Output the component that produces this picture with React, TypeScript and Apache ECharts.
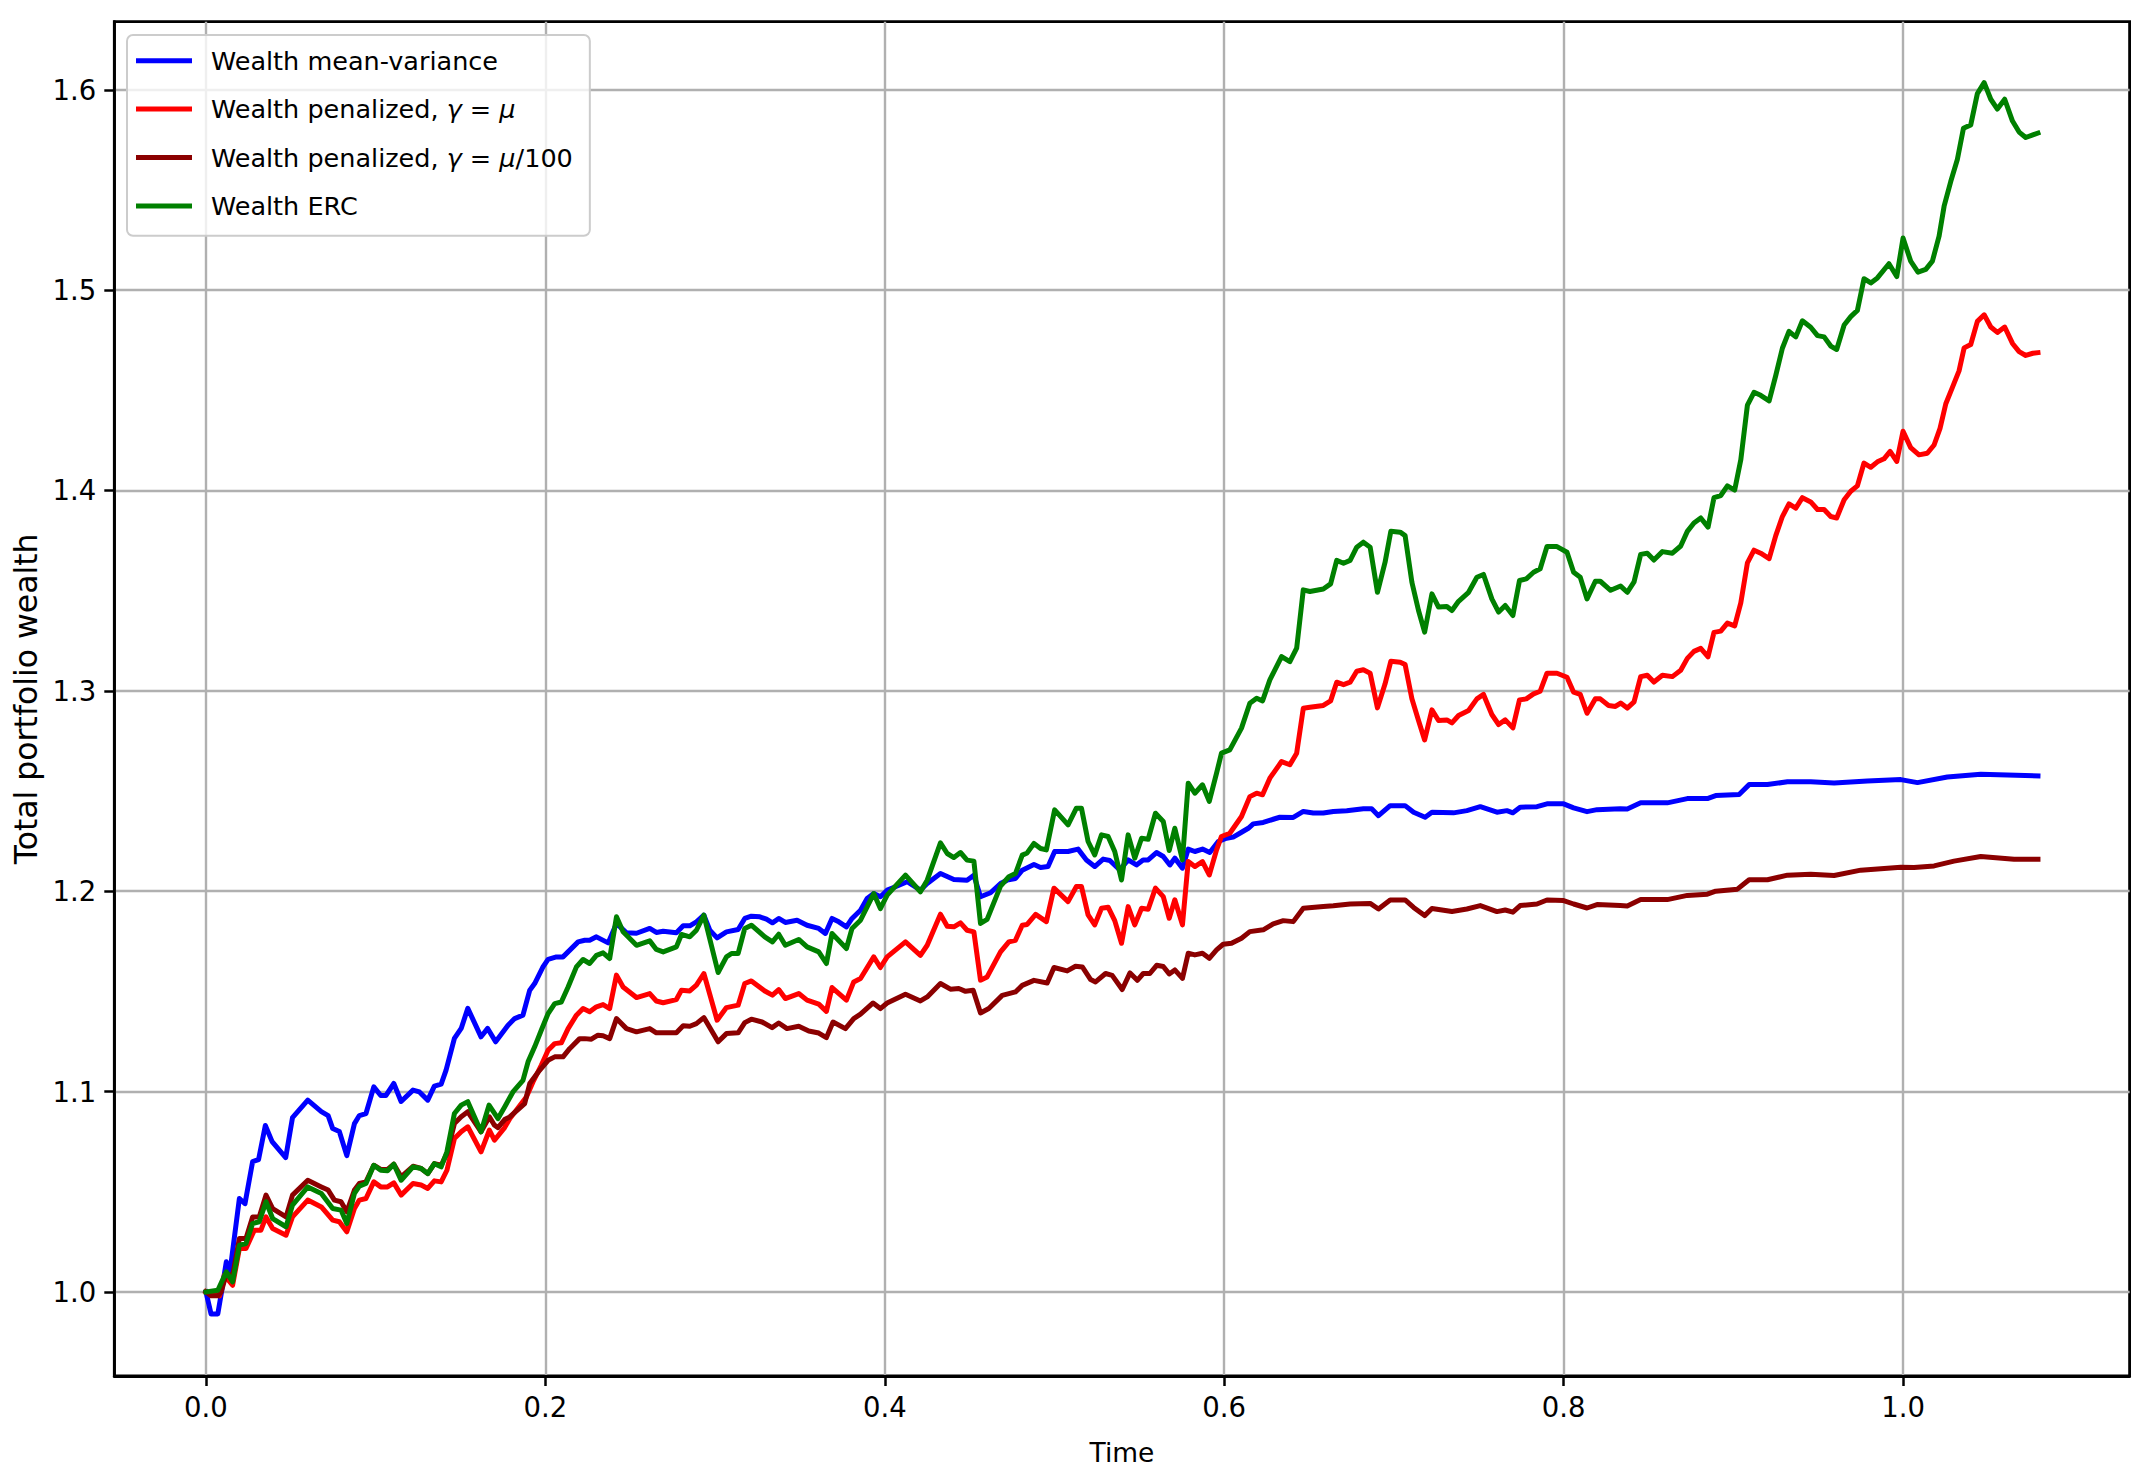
import React, { useEffect, useRef } from "react";
import * as echarts from "echarts";

const FONT = "DejaVu Sans";

const X_TICKS = [0, 0.2, 0.4, 0.6, 0.8, 1.0];
const Y_TICKS = [1.0, 1.1, 1.2, 1.3, 1.4, 1.5, 1.6];

const SERIES_NAMES = [
  "Wealth mean-variance",
  "Wealth penalized, γ = μ",
  "Wealth penalized, γ = μ/100",
  "Wealth ERC",
];
const SERIES_COLORS = ["#0000ff", "#ff0000", "#8b0000", "#008000"];

const meanVariance: [number, number][] = [
  [0, 1.0], [0.003, 0.989], [0.007, 0.989], [0.009, 0.999], [0.012, 1.015], [0.014, 1.009],
  [0.0197, 1.0466], [0.023, 1.044], [0.0275, 1.065], [0.031, 1.066], [0.035, 1.083], [0.039, 1.075],
  [0.047, 1.067], [0.051, 1.087], [0.06, 1.0957], [0.068, 1.09], [0.072, 1.088], [0.0747, 1.0815],
  [0.0786, 1.08], [0.083, 1.068], [0.0875, 1.084], [0.0904, 1.088], [0.0943, 1.089], [0.0989, 1.1023],
  [0.103, 1.098], [0.106, 1.098], [0.1107, 1.104], [0.115, 1.095], [0.122, 1.1007], [0.1258, 1.0998],
  [0.1307, 1.0957], [0.1346, 1.1027], [0.1386, 1.1037], [0.1415, 1.1107], [0.1464, 1.1265], [0.1504, 1.1315],
  [0.1543, 1.1415], [0.1621, 1.1273], [0.166, 1.1315], [0.1707, 1.1248], [0.178, 1.1331], [0.1819, 1.1364],
  [0.1868, 1.1381], [0.1908, 1.1506], [0.1937, 1.1539], [0.1986, 1.1622], [0.2016, 1.166], [0.2065, 1.1672],
  [0.2104, 1.1672], [0.2193, 1.1747], [0.2232, 1.1755], [0.2261, 1.1755], [0.2301, 1.1772], [0.237, 1.1742],
  [0.2419, 1.1839], [0.2478, 1.1792], [0.2537, 1.179], [0.2615, 1.1814], [0.2654, 1.1794], [0.2694, 1.18],
  [0.2772, 1.1792], [0.2812, 1.1827], [0.2851, 1.1827], [0.289, 1.1847], [0.2934, 1.188], [0.2969, 1.1805],
  [0.3012, 1.1767], [0.3067, 1.1797], [0.3136, 1.1809], [0.3175, 1.1864], [0.3214, 1.1875], [0.3264, 1.1872],
  [0.3303, 1.186], [0.3338, 1.1842], [0.3375, 1.1864], [0.3414, 1.1844], [0.3483, 1.1855], [0.3542, 1.183],
  [0.3611, 1.1814], [0.365, 1.1789], [0.3689, 1.1864], [0.3729, 1.1847], [0.3774, 1.1822], [0.3807, 1.1864],
  [0.3857, 1.1905], [0.3896, 1.1963], [0.3935, 1.1988], [0.3974, 1.1972], [0.4014, 1.2005], [0.4063, 1.2022],
  [0.4132, 1.2047], [0.421, 1.2005], [0.425, 1.2038], [0.4328, 1.2088], [0.4407, 1.2058], [0.4485, 1.2055],
  [0.4525, 1.208], [0.4564, 1.1972], [0.4623, 1.1992], [0.4682, 1.2038], [0.4721, 1.2055], [0.477, 1.2063],
  [0.481, 1.2105], [0.4879, 1.2133], [0.4918, 1.2118], [0.4962, 1.2123], [0.5001, 1.2198], [0.508, 1.2198],
  [0.5139, 1.221], [0.5188, 1.2156], [0.5237, 1.2123], [0.5287, 1.216], [0.5326, 1.2153], [0.5385, 1.2106],
  [0.5434, 1.2156], [0.5483, 1.2131], [0.5522, 1.2156], [0.5552, 1.2156], [0.5601, 1.2193], [0.5641, 1.2173],
  [0.568, 1.2131], [0.5709, 1.2165], [0.5754, 1.2115], [0.5788, 1.221], [0.5827, 1.2198], [0.5872, 1.221],
  [0.5915, 1.2193], [0.5965, 1.2248], [0.6014, 1.2264], [0.6053, 1.227], [0.6092, 1.2289], [0.6142, 1.2314],
  [0.6171, 1.2336], [0.623, 1.2343], [0.6289, 1.2359], [0.6328, 1.2369], [0.6407, 1.2368], [0.6466, 1.2398],
  [0.6525, 1.239], [0.6584, 1.239], [0.6643, 1.2398], [0.6722, 1.2402], [0.682, 1.2411], [0.6869, 1.2411],
  [0.6909, 1.2377], [0.6978, 1.2427], [0.7066, 1.2427], [0.7116, 1.2394], [0.7184, 1.2369], [0.7224, 1.2394],
  [0.7351, 1.2391], [0.743, 1.2402], [0.7509, 1.2422], [0.7607, 1.2394], [0.7666, 1.2402], [0.7701, 1.2391],
  [0.7744, 1.2419], [0.7843, 1.2422], [0.7902, 1.2436], [0.8, 1.2436], [0.8059, 1.2416], [0.8138, 1.2397],
  [0.8197, 1.2407], [0.8334, 1.2411], [0.8375, 1.241], [0.8454, 1.2441], [0.8611, 1.2441], [0.8729, 1.2462],
  [0.8847, 1.2462], [0.8896, 1.2477], [0.9034, 1.2483], [0.9093, 1.2532], [0.9201, 1.2532], [0.9319, 1.2546],
  [0.9456, 1.2546], [0.9594, 1.254], [0.979, 1.255], [0.9987, 1.2557], [1.0085, 1.2542], [1.0261, 1.257],
  [1.0458, 1.2584], [1.0795, 1.2575],
];

const penalizedMu: [number, number][] = [
  [0, 1.0], [0.003, 0.999], [0.008, 0.998], [0.0108, 1.0083], [0.0157, 1.0033], [0.0197, 1.0216],
  [0.0236, 1.0216], [0.0285, 1.0308], [0.0324, 1.0308], [0.0354, 1.0374], [0.0393, 1.0316], [0.0472, 1.0283],
  [0.051, 1.0374], [0.06, 1.0458], [0.068, 1.0424], [0.0747, 1.0358], [0.0786, 1.035], [0.083, 1.03],
  [0.0875, 1.0416], [0.0904, 1.0458], [0.0943, 1.0466], [0.0989, 1.0549], [0.103, 1.0524], [0.107, 1.0524],
  [0.1107, 1.0544], [0.115, 1.0483], [0.122, 1.0541], [0.1268, 1.0533], [0.1307, 1.0516], [0.1346, 1.0554],
  [0.1386, 1.0549], [0.142, 1.0607], [0.1464, 1.0765], [0.1504, 1.0799], [0.1543, 1.0824], [0.1621, 1.0699],
  [0.167, 1.0807], [0.17, 1.0757], [0.176, 1.082], [0.1791, 1.0865], [0.1888, 1.0973], [0.1927, 1.1048],
  [0.1976, 1.1131], [0.2016, 1.1206], [0.2055, 1.1239], [0.2094, 1.1243], [0.2134, 1.1314], [0.2183, 1.1381],
  [0.2222, 1.1414], [0.2261, 1.1398], [0.2301, 1.1423], [0.234, 1.1434], [0.2379, 1.1414], [0.2419, 1.1581],
  [0.2458, 1.1522], [0.2537, 1.1469], [0.2615, 1.1489], [0.2654, 1.1452], [0.2694, 1.1443], [0.2772, 1.1459],
  [0.2802, 1.1506], [0.2851, 1.1502], [0.289, 1.1531], [0.2934, 1.1589], [0.3012, 1.1356], [0.3067, 1.1419],
  [0.3136, 1.1431], [0.3175, 1.1539], [0.3214, 1.1552], [0.3293, 1.1502], [0.3338, 1.1481], [0.3375, 1.1509],
  [0.3414, 1.1464], [0.3493, 1.1489], [0.3542, 1.1456], [0.3611, 1.1436], [0.3656, 1.14], [0.3689, 1.1519],
  [0.3774, 1.1456], [0.3817, 1.1547], [0.3857, 1.1564], [0.3935, 1.1672], [0.3974, 1.1619], [0.4014, 1.1672],
  [0.4122, 1.1747], [0.421, 1.168], [0.425, 1.173], [0.4328, 1.1885], [0.4368, 1.1825], [0.4407, 1.1822],
  [0.4446, 1.1842], [0.4485, 1.1805], [0.4525, 1.1797], [0.4564, 1.1556], [0.4603, 1.1572], [0.4682, 1.1697],
  [0.4731, 1.1747], [0.477, 1.1755], [0.481, 1.183], [0.4839, 1.1834], [0.4889, 1.1884], [0.4952, 1.1848],
  [0.4997, 1.2015], [0.508, 1.1948], [0.5129, 1.2023], [0.5159, 1.2023], [0.5198, 1.1882], [0.5237, 1.1832],
  [0.5277, 1.1915], [0.5316, 1.192], [0.5355, 1.1853], [0.5395, 1.174], [0.5434, 1.1923], [0.5473, 1.1832],
  [0.5513, 1.1915], [0.5552, 1.191], [0.5595, 1.2015], [0.5641, 1.1973], [0.5676, 1.1865], [0.5709, 1.1957],
  [0.5754, 1.1832], [0.5788, 1.2148], [0.5827, 1.2123], [0.5872, 1.2148], [0.5912, 1.2081], [0.5955, 1.2206],
  [0.5984, 1.2273], [0.6033, 1.2289], [0.6102, 1.2373], [0.6151, 1.2472], [0.6191, 1.2489], [0.6226, 1.2481],
  [0.6269, 1.2564], [0.6338, 1.2647], [0.6387, 1.2631], [0.6427, 1.2689], [0.6466, 1.2913], [0.6505, 1.2918],
  [0.6584, 1.2927], [0.6627, 1.295], [0.6663, 1.3043], [0.6703, 1.3031], [0.6742, 1.3043], [0.6781, 1.3098],
  [0.682, 1.3105], [0.686, 1.3088], [0.6903, 1.2915], [0.6948, 1.3035], [0.6982, 1.3148], [0.7037, 1.3143],
  [0.7066, 1.3131], [0.7106, 1.296], [0.7145, 1.2852], [0.7181, 1.2755], [0.7224, 1.2905], [0.7263, 1.2852],
  [0.7312, 1.2855], [0.7342, 1.284], [0.7381, 1.2877], [0.744, 1.2902], [0.7489, 1.296], [0.7528, 1.2982],
  [0.7577, 1.2882], [0.7617, 1.2832], [0.7656, 1.2855], [0.7701, 1.2815], [0.774, 1.2955], [0.778, 1.296],
  [0.7823, 1.2985], [0.7862, 1.2998], [0.7902, 1.3088], [0.7961, 1.3088], [0.802, 1.3068], [0.8059, 1.2993],
  [0.8098, 1.2982], [0.8138, 1.2888], [0.8187, 1.296], [0.8216, 1.296], [0.8265, 1.2927], [0.8305, 1.2922],
  [0.8336, 1.2939], [0.8375, 1.2914], [0.8415, 1.2945], [0.8454, 1.3071], [0.8493, 1.3078], [0.8532, 1.3044],
  [0.8582, 1.3078], [0.8641, 1.3071], [0.869, 1.3103], [0.8729, 1.3162], [0.8768, 1.3197], [0.8808, 1.3212],
  [0.8851, 1.317], [0.8886, 1.3292], [0.8926, 1.3298], [0.8965, 1.3338], [0.9008, 1.3324], [0.9044, 1.3439],
  [0.9083, 1.3639], [0.9122, 1.3702], [0.9161, 1.3687], [0.9211, 1.366], [0.925, 1.3775], [0.9289, 1.387],
  [0.9328, 1.3933], [0.9368, 1.3912], [0.9407, 1.3964], [0.9456, 1.3943], [0.9496, 1.3905], [0.9535, 1.3905],
  [0.9574, 1.387], [0.9609, 1.3863], [0.9653, 1.3954], [0.9692, 1.3996], [0.9731, 1.4023], [0.977, 1.4137],
  [0.981, 1.4116], [0.9849, 1.4143], [0.9888, 1.4158], [0.9924, 1.4195], [0.9963, 1.4145], [1.0, 1.4296],
  [1.0045, 1.4214], [1.0094, 1.4178], [1.0143, 1.4186], [1.0183, 1.4227], [1.0218, 1.431], [1.0252, 1.4433],
  [1.0291, 1.4515], [1.033, 1.4597], [1.036, 1.4712], [1.0399, 1.4729], [1.0438, 1.4844], [1.0478, 1.4877],
  [1.0517, 1.4816], [1.0556, 1.4789], [1.0599, 1.4816], [1.0645, 1.4734], [1.0684, 1.4693], [1.0723, 1.4674],
  [1.0765, 1.4685], [1.0795, 1.4688],
];

const penalizedMu100: [number, number][] = [
  [0, 1.0], [0.003, 0.998], [0.007, 0.998], [0.009, 1.0], [0.012, 1.009], [0.0157, 1.008],
  [0.0197, 1.0266], [0.0236, 1.0266], [0.0275, 1.0374], [0.0314, 1.0374], [0.0354, 1.0483], [0.0393, 1.0416],
  [0.0472, 1.0374], [0.051, 1.0483], [0.06, 1.0557], [0.068, 1.0524], [0.072, 1.0508], [0.0757, 1.0458],
  [0.0796, 1.045], [0.083, 1.04], [0.0875, 1.0508], [0.0904, 1.0541], [0.0943, 1.0549], [0.0989, 1.0632],
  [0.103, 1.0611], [0.107, 1.0611], [0.1107, 1.0637], [0.115, 1.0574], [0.122, 1.0627], [0.1268, 1.0616],
  [0.1307, 1.059], [0.1346, 1.064], [0.1386, 1.0632], [0.142, 1.069], [0.1464, 1.084], [0.1504, 1.0874],
  [0.1543, 1.0899], [0.1621, 1.0799], [0.167, 1.0874], [0.17, 1.0832], [0.1721, 1.082], [0.176, 1.086],
  [0.179, 1.0873], [0.1878, 1.094], [0.1908, 1.104], [0.1966, 1.1106], [0.2016, 1.1156], [0.2055, 1.1173],
  [0.2104, 1.1173], [0.2143, 1.1214], [0.2202, 1.1264], [0.2232, 1.1264], [0.2271, 1.1261], [0.231, 1.1281],
  [0.234, 1.1278], [0.2379, 1.1264], [0.2419, 1.1364], [0.2478, 1.1314], [0.2537, 1.1298], [0.2615, 1.1314],
  [0.2654, 1.1293], [0.2772, 1.1293], [0.2812, 1.1328], [0.2851, 1.1326], [0.289, 1.1339], [0.2934, 1.1369],
  [0.3018, 1.1248], [0.3067, 1.1289], [0.3136, 1.1293], [0.3175, 1.1344], [0.3214, 1.1361], [0.3277, 1.1347],
  [0.3336, 1.1319], [0.3375, 1.1342], [0.3424, 1.1314], [0.3493, 1.1326], [0.3552, 1.1302], [0.3611, 1.1292],
  [0.3656, 1.1269], [0.3695, 1.1347], [0.3768, 1.1314], [0.3817, 1.1364], [0.3857, 1.1386], [0.3931, 1.1442],
  [0.3974, 1.1414], [0.4014, 1.1442], [0.4122, 1.1486], [0.421, 1.1452], [0.425, 1.1472], [0.4328, 1.1539],
  [0.4387, 1.1511], [0.4436, 1.1514], [0.4476, 1.15], [0.4521, 1.1505], [0.4564, 1.1392], [0.4613, 1.1414],
  [0.4692, 1.148], [0.477, 1.1497], [0.481, 1.153], [0.4879, 1.1555], [0.4957, 1.1542], [0.4997, 1.1619],
  [0.5075, 1.1602], [0.5124, 1.1625], [0.5164, 1.1622], [0.5213, 1.1559], [0.5242, 1.1547], [0.5301, 1.1589],
  [0.534, 1.158], [0.5399, 1.1509], [0.5445, 1.1592], [0.5488, 1.1555], [0.5523, 1.1589], [0.5562, 1.1589],
  [0.5602, 1.163], [0.5641, 1.1624], [0.5676, 1.1587], [0.5709, 1.1607], [0.5754, 1.1565], [0.5788, 1.169],
  [0.5827, 1.1682], [0.5872, 1.169], [0.5912, 1.1665], [0.5955, 1.1707], [0.5994, 1.1735], [0.6043, 1.174],
  [0.6102, 1.1765], [0.6151, 1.1798], [0.623, 1.1807], [0.6289, 1.1837], [0.6348, 1.1853], [0.6407, 1.1848],
  [0.6466, 1.1915], [0.6584, 1.1923], [0.6643, 1.1927], [0.6742, 1.1936], [0.686, 1.1939], [0.6909, 1.1911],
  [0.6978, 1.1956], [0.7066, 1.1956], [0.7116, 1.1919], [0.7181, 1.1878], [0.7224, 1.1914], [0.7342, 1.1899],
  [0.743, 1.1911], [0.7509, 1.1928], [0.7607, 1.1898], [0.7656, 1.1906], [0.7701, 1.1895], [0.7744, 1.1928],
  [0.7843, 1.1936], [0.7902, 1.1956], [0.8, 1.1953], [0.8059, 1.1936], [0.8138, 1.1916], [0.8197, 1.1933],
  [0.8334, 1.1928], [0.8375, 1.1926], [0.8454, 1.1958], [0.8611, 1.1958], [0.8729, 1.1979], [0.8847, 1.1985],
  [0.8896, 1.2], [0.9024, 1.201], [0.9093, 1.2057], [0.9201, 1.2057], [0.9319, 1.208], [0.9456, 1.2084],
  [0.9594, 1.2078], [0.9751, 1.2105], [0.9987, 1.212], [1.0065, 1.2118], [1.0183, 1.2126], [1.03, 1.215],
  [1.0458, 1.2173], [1.0654, 1.2159], [1.0795, 1.2159],
];

const erc: [number, number][] = [
  [0, 1.0], [0.007, 1.0008], [0.012, 1.01], [0.0157, 1.005], [0.0197, 1.0233], [0.0236, 1.0241],
  [0.0275, 1.0341], [0.0314, 1.035], [0.0354, 1.045], [0.0393, 1.0366], [0.0472, 1.0325], [0.051, 1.0433],
  [0.06, 1.0524], [0.068, 1.0491], [0.0747, 1.0416], [0.0796, 1.0408], [0.083, 1.0341], [0.0875, 1.0491],
  [0.0904, 1.0528], [0.0943, 1.0541], [0.0989, 1.0632], [0.103, 1.0607], [0.107, 1.0604], [0.1107, 1.0637],
  [0.115, 1.0557], [0.122, 1.0624], [0.1268, 1.0616], [0.1307, 1.059], [0.1346, 1.064], [0.1386, 1.0624],
  [0.142, 1.0699], [0.1464, 1.089], [0.1504, 1.0932], [0.1543, 1.0949], [0.1621, 1.0799], [0.1668, 1.0932],
  [0.1721, 1.0865], [0.176, 1.0923], [0.1809, 1.0998], [0.1868, 1.1056], [0.1898, 1.1148], [0.1937, 1.1223],
  [0.1976, 1.1306], [0.2016, 1.1389], [0.2055, 1.1439], [0.2094, 1.1447], [0.2134, 1.1522], [0.2183, 1.1622],
  [0.2222, 1.1659], [0.2261, 1.1639], [0.2301, 1.168], [0.234, 1.1692], [0.2379, 1.1664], [0.2419, 1.1872],
  [0.2458, 1.1797], [0.2537, 1.173], [0.2615, 1.1752], [0.2654, 1.1709], [0.2694, 1.1697], [0.2772, 1.1722],
  [0.2802, 1.1784], [0.2851, 1.1772], [0.289, 1.1805], [0.2934, 1.188], [0.3018, 1.1594], [0.3067, 1.1672],
  [0.3097, 1.1689], [0.3136, 1.1689], [0.3175, 1.1814], [0.3214, 1.183], [0.3293, 1.1772], [0.3338, 1.1747],
  [0.3375, 1.1785], [0.3414, 1.173], [0.3493, 1.1759], [0.3542, 1.1722], [0.3611, 1.1697], [0.3656, 1.1639],
  [0.3689, 1.1789], [0.3774, 1.1714], [0.3807, 1.1814], [0.3857, 1.1855], [0.3935, 1.1988], [0.3974, 1.1913],
  [0.4014, 1.198], [0.4122, 1.208], [0.421, 1.1997], [0.425, 1.2055], [0.4328, 1.2241], [0.4368, 1.2188],
  [0.4407, 1.2168], [0.4446, 1.2193], [0.4485, 1.2155], [0.4525, 1.215], [0.4564, 1.1839], [0.4603, 1.1859],
  [0.4682, 1.2025], [0.4731, 1.2072], [0.477, 1.2088], [0.481, 1.218], [0.4839, 1.2191], [0.4879, 1.2238],
  [0.4918, 1.2213], [0.4952, 1.2206], [0.5001, 1.2406], [0.508, 1.2331], [0.5129, 1.2414], [0.5159, 1.2414],
  [0.5198, 1.2248], [0.5237, 1.2181], [0.5277, 1.2281], [0.5316, 1.2273], [0.5355, 1.2198], [0.5395, 1.2056],
  [0.5434, 1.2281], [0.5473, 1.2165], [0.5513, 1.2264], [0.5552, 1.2259], [0.5595, 1.2389], [0.5641, 1.2348],
  [0.5676, 1.2203], [0.5709, 1.2314], [0.5754, 1.2156], [0.5788, 1.2539], [0.5827, 1.2489], [0.5872, 1.2531],
  [0.5912, 1.2448], [0.5955, 1.2589], [0.5984, 1.2689], [0.6033, 1.2705], [0.6102, 1.2814], [0.6151, 1.2938],
  [0.6191, 1.2963], [0.6226, 1.295], [0.6269, 1.3055], [0.6338, 1.3171], [0.6387, 1.3146], [0.6427, 1.3213],
  [0.6466, 1.3504], [0.6505, 1.3496], [0.6584, 1.3508], [0.6627, 1.3534], [0.6663, 1.3651], [0.6703, 1.3637],
  [0.6742, 1.3651], [0.6781, 1.3717], [0.682, 1.3742], [0.686, 1.3717], [0.6903, 1.3492], [0.6948, 1.3642],
  [0.6982, 1.3797], [0.7037, 1.3792], [0.7066, 1.3775], [0.7106, 1.3542], [0.7145, 1.3401], [0.7181, 1.3293],
  [0.7224, 1.3484], [0.7263, 1.3418], [0.7312, 1.3421], [0.7342, 1.3401], [0.7381, 1.3447], [0.744, 1.3492],
  [0.7489, 1.3567], [0.7528, 1.3581], [0.7577, 1.3459], [0.7617, 1.3393], [0.7656, 1.3426], [0.7701, 1.3376],
  [0.774, 1.3551], [0.778, 1.3559], [0.7823, 1.3592], [0.7862, 1.3609], [0.7902, 1.372], [0.7961, 1.372],
  [0.802, 1.3692], [0.8059, 1.3592], [0.8098, 1.3567], [0.8138, 1.3459], [0.8187, 1.3547], [0.8216, 1.3547],
  [0.8277, 1.3502], [0.8336, 1.3523], [0.8375, 1.3492], [0.8415, 1.3544], [0.8454, 1.3681], [0.8493, 1.3687],
  [0.8532, 1.3653], [0.8582, 1.3695], [0.8641, 1.3687], [0.869, 1.3723], [0.8729, 1.3796], [0.8768, 1.3838],
  [0.8808, 1.3863], [0.8851, 1.3817], [0.8886, 1.3964], [0.8926, 1.3975], [0.8965, 1.4023], [0.9008, 1.4002],
  [0.9044, 1.4153], [0.9083, 1.4426], [0.9122, 1.449], [0.9161, 1.4475], [0.9211, 1.4447], [0.925, 1.4574],
  [0.9289, 1.471], [0.9328, 1.4794], [0.9368, 1.4767], [0.9407, 1.4847], [0.9456, 1.4815], [0.9496, 1.4773],
  [0.9535, 1.4767], [0.9574, 1.4721], [0.9609, 1.4704], [0.9653, 1.4826], [0.9692, 1.4868], [0.9731, 1.4899],
  [0.977, 1.5057], [0.981, 1.5036], [0.9849, 1.5061], [0.9917, 1.5132], [0.9963, 1.5068], [1.0, 1.526],
  [1.0045, 1.5145], [1.0088, 1.509], [1.0134, 1.5104], [1.0173, 1.5145], [1.0212, 1.5268], [1.0242, 1.5419],
  [1.0281, 1.5542], [1.032, 1.5652], [1.0356, 1.5808], [1.0399, 1.5825], [1.0438, 1.5981], [1.0478, 1.6036],
  [1.0517, 1.5953], [1.0556, 1.5904], [1.0599, 1.5953], [1.0645, 1.5844], [1.0684, 1.5789], [1.0723, 1.5762],
  [1.0765, 1.5775], [1.0795, 1.5784],
];

const SERIES_DATA = [meanVariance, penalizedMu, penalizedMu100, erc];

function legendLabel(name: string): string {
  if (name === SERIES_NAMES[1]) return "{n|Wealth penalized, }{i|γ}{n| = }{i|μ}";
  if (name === SERIES_NAMES[2]) return "{n|Wealth penalized, }{i|γ}{n| = }{i|μ}{n|/100}";
  return "{n|" + name + "}";
}

export default function App() {
  const ref = useRef<HTMLDivElement>(null);

  useEffect(() => {
    document.body.style.margin = "0";
    document.body.style.overflow = "hidden";
    const chart = echarts.init(ref.current as HTMLDivElement, null, { renderer: "svg" });
    const LEGEND_FS = 25.5;
    const LINE_W = 5;
    const option: any = {
      animation: false,
      backgroundColor: "#ffffff",
      grid: {
        left: 114.3,
        right: 24.4,
        top: 21.7,
        bottom: 106,
        containLabel: false,
        outerBoundsMode: "none",
        show: true,
        borderColor: "#000000",
        borderWidth: 2.8,
        backgroundColor: "transparent",
      },
      xAxis: {
        type: "value",
        min: -0.054,
        max: 1.1335,
        name: "Time",
        nameLocation: "middle",
        nameGap: 63,
        nameTextStyle: { fontFamily: FONT, fontSize: 26.5, color: "#000000" },
        axisLine: { show: true, onZero: false, lineStyle: { color: "#000000", width: 2.8 } },
        axisTick: {
          show: true,
          inside: false,
          length: 10,
          customValues: X_TICKS,
          lineStyle: { color: "#000000", width: 2.5 },
        },
        axisLabel: {
          show: true,
          customValues: X_TICKS,
          formatter: (v: number) => v.toFixed(1),
          margin: 17,
          fontFamily: FONT,
          fontSize: 27.5,
          color: "#000000",
        },
        splitLine: { show: true, lineStyle: { color: "#b0b0b0", width: 2.4 } },
      },
      yAxis: {
        type: "value",
        min: 0.958,
        max: 1.634,
        name: "Total portfolio wealth",
        nameLocation: "middle",
        nameGap: 68,
        nameTextStyle: { fontFamily: FONT, fontSize: 31.5, color: "#000000" },
        axisLine: { show: true, onZero: false, lineStyle: { color: "#000000", width: 2.8 } },
        axisTick: {
          show: true,
          inside: false,
          length: 10,
          customValues: Y_TICKS,
          lineStyle: { color: "#000000", width: 2.5 },
        },
        axisLabel: {
          show: true,
          customValues: Y_TICKS,
          formatter: (v: number) => v.toFixed(1),
          margin: 18,
          fontFamily: FONT,
          fontSize: 27.5,
          color: "#000000",
        },
        splitLine: { show: true, lineStyle: { color: "#b0b0b0", width: 2.4 } },
      },
      legend: {
        show: true,
        orient: "vertical",
        left: 127,
        top: 35,
        icon: "rect",
        itemWidth: 56,
        itemHeight: LINE_W,
        itemGap: 18.4,
        padding: [10.7, 17, 14.8, 9],
        backgroundColor: "rgba(255,255,255,0.8)",
        borderColor: "#cccccc",
        borderWidth: 2,
        borderRadius: 6,
        selectedMode: false,
        data: SERIES_NAMES,
        formatter: legendLabel,
        textStyle: {
          fontFamily: FONT,
          fontSize: LEGEND_FS,
          color: "#000000",
          lineHeight: 30,
          padding: [0, 0, 0, 14],
          rich: {
            n: { fontFamily: FONT, fontSize: LEGEND_FS, color: "#000000", lineHeight: 30 },
            i: { fontFamily: FONT, fontSize: LEGEND_FS, fontStyle: "italic", color: "#000000", lineHeight: 30 },
          },
        },
      },
      series: SERIES_NAMES.map((name, idx) => ({
        name,
        type: "line",
        data: SERIES_DATA[idx],
        showSymbol: false,
        symbol: "none",
        color: SERIES_COLORS[idx],
        itemStyle: { color: SERIES_COLORS[idx] },
        lineStyle: { color: SERIES_COLORS[idx], width: LINE_W, cap: "square", join: "round" },
        emphasis: { disabled: true },
        silent: true,
      })),
    };
    chart.setOption(option);
    return () => {
      chart.dispose();
    };
  }, []);

  return (
    <div
      ref={ref}
      style={{ position: "fixed", left: 0, top: 0, width: 2154, height: 1482, background: "#ffffff" }}
    />
  );
}
